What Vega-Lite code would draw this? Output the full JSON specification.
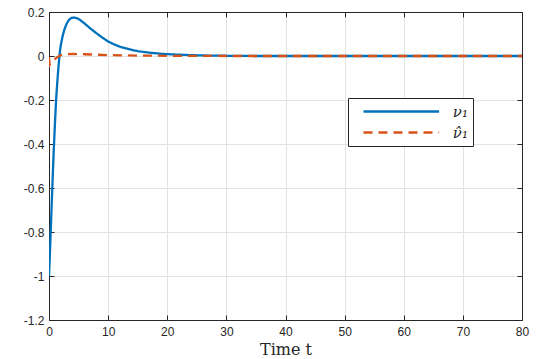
{
  "$schema": "https://vega.github.io/schema/vega-lite/v6.json",
  "width": 473,
  "height": 308,
  "autosize": "none",
  "padding": {"left": 49, "top": 12, "right": 18, "bottom": 39},
  "background": "white",
  "config": {
    "view": {"stroke": "#262626", "strokeWidth": 1},
    "axis": {"labelFont": "Liberation Sans", "labelFontSize": 12, "labelColor": "#262626", "domainColor": "#262626", "tickColor": "#262626", "gridColor": "#e3e3e3", "gridOpacity": 1, "titleFont": "DejaVu Serif", "titleFontWeight": "normal", "titleColor": "#262626", "labelFlush": false}
  },
  "datasets": {
    "curves": [
      {"t": 0, "v": -1, "s": "ν₁"},
      {"t": 0.15, "v": -0.9, "s": "ν₁"},
      {"t": 0.3, "v": -0.79, "s": "ν₁"},
      {"t": 0.45, "v": -0.68, "s": "ν₁"},
      {"t": 0.6, "v": -0.57, "s": "ν₁"},
      {"t": 0.8, "v": -0.43, "s": "ν₁"},
      {"t": 1.0, "v": -0.31, "s": "ν₁"},
      {"t": 1.2, "v": -0.2, "s": "ν₁"},
      {"t": 1.4, "v": -0.12, "s": "ν₁"},
      {"t": 1.6, "v": -0.05, "s": "ν₁"},
      {"t": 1.8, "v": 0.01, "s": "ν₁"},
      {"t": 2.0, "v": 0.05, "s": "ν₁"},
      {"t": 2.3, "v": 0.09, "s": "ν₁"},
      {"t": 2.6, "v": 0.12, "s": "ν₁"},
      {"t": 3.0, "v": 0.148, "s": "ν₁"},
      {"t": 3.4, "v": 0.165, "s": "ν₁"},
      {"t": 3.8, "v": 0.173, "s": "ν₁"},
      {"t": 4.2, "v": 0.175, "s": "ν₁"},
      {"t": 4.7, "v": 0.172, "s": "ν₁"},
      {"t": 5.2, "v": 0.165, "s": "ν₁"},
      {"t": 6, "v": 0.148, "s": "ν₁"},
      {"t": 7, "v": 0.125, "s": "ν₁"},
      {"t": 8, "v": 0.104, "s": "ν₁"},
      {"t": 9, "v": 0.084, "s": "ν₁"},
      {"t": 10, "v": 0.066, "s": "ν₁"},
      {"t": 11, "v": 0.053, "s": "ν₁"},
      {"t": 12, "v": 0.042, "s": "ν₁"},
      {"t": 13.5, "v": 0.031, "s": "ν₁"},
      {"t": 15, "v": 0.022, "s": "ν₁"},
      {"t": 17, "v": 0.015, "s": "ν₁"},
      {"t": 19, "v": 0.01, "s": "ν₁"},
      {"t": 21, "v": 0.007, "s": "ν₁"},
      {"t": 24, "v": 0.004, "s": "ν₁"},
      {"t": 27, "v": 0.002, "s": "ν₁"},
      {"t": 30, "v": 0.001, "s": "ν₁"},
      {"t": 35, "v": 0, "s": "ν₁"},
      {"t": 40, "v": 0, "s": "ν₁"},
      {"t": 50, "v": 0, "s": "ν₁"},
      {"t": 60, "v": 0, "s": "ν₁"},
      {"t": 70, "v": 0, "s": "ν₁"},
      {"t": 80, "v": 0, "s": "ν₁"},
      {"t": 0, "v": -0.005, "s": "ν̂₁"},
      {"t": 0.1, "v": -0.04, "s": "ν̂₁"},
      {"t": 0.3, "v": -0.03, "s": "ν̂₁"},
      {"t": 0.8, "v": -0.018, "s": "ν̂₁"},
      {"t": 1.4, "v": -0.005, "s": "ν̂₁"},
      {"t": 2, "v": 0.004, "s": "ν̂₁"},
      {"t": 3, "v": 0.008, "s": "ν̂₁"},
      {"t": 4, "v": 0.009, "s": "ν̂₁"},
      {"t": 6, "v": 0.008, "s": "ν̂₁"},
      {"t": 8, "v": 0.006, "s": "ν̂₁"},
      {"t": 10, "v": 0.004, "s": "ν̂₁"},
      {"t": 15, "v": 0.002, "s": "ν̂₁"},
      {"t": 20, "v": 0.001, "s": "ν̂₁"},
      {"t": 30, "v": 0, "s": "ν̂₁"},
      {"t": 40, "v": 0, "s": "ν̂₁"},
      {"t": 50, "v": 0, "s": "ν̂₁"},
      {"t": 60, "v": 0, "s": "ν̂₁"},
      {"t": 70, "v": 0, "s": "ν̂₁"},
      {"t": 80, "v": 0, "s": "ν̂₁"}
    ]
  },
  "data": {"name": "curves"},
  "layer": [
    {
      "mark": {"type": "line", "strokeWidth": 2.3, "clip": true},
      "encoding": {
        "x": {"field": "t", "type": "quantitative", "scale": {"domain": [0, 80], "nice": false, "zero": false},
          "axis": {"orient": "bottom", "values": [0,10,20,30,40,50,60,70,80], "tickSize": -5, "labelPadding": 11, "title": "Time t", "titleFontSize": 16, "titlePadding": 4, "domain": true}},
        "y": {"field": "v", "type": "quantitative", "scale": {"domain": [-1.2, 0.2], "nice": false, "zero": false},
          "axis": {"orient": "left", "values": [-1.2,-1,-0.8,-0.6,-0.4,-0.2,0,0.2], "labelExpr": "replace(format(datum.value, '.1~f'), '\u2212', '-')", "tickSize": -5, "labelPadding": 10, "title": null, "domain": true}},
        "color": {"field": "s", "type": "nominal", "scale": {"domain": ["ν₁", "ν̂₁"], "range": ["#0072BD", "#D95319"]},
          "legend": {"title": null, "orient": "none", "legendX": 299, "legendY": 86, "fillColor": "white", "strokeColor": "#262626", "padding": 5, "symbolType": "M-5.4,0H5.4", "symbolSize": 196, "symbolOffset": 39.8, "symbolStrokeWidth": 2.3, "labelFont": "DejaVu Serif", "labelFontStyle": "italic", "labelFontSize": 15, "labelColor": "#262626", "rowPadding": 4, "labelOffset": 43, "labelExpr": "datum.label + '\u2003'"}},
        "strokeDash": {"field": "s", "type": "nominal", "scale": {"domain": ["ν₁", "ν̂₁"], "range": [[1, 0], [9, 6]]}, "legend": null}
      }
    },
    {
      "mark": {"type": "line", "opacity": 0},
      "encoding": {
        "x": {"field": "t", "type": "quantitative", "axis": {"orient": "top", "values": [0,10,20,30,40,50,60,70,80], "tickSize": -5, "labels": false, "grid": false, "title": null}},
        "y": {"field": "v", "type": "quantitative", "axis": {"orient": "right", "values": [-1.2,-1,-0.8,-0.6,-0.4,-0.2,0,0.2], "tickSize": -5, "labels": false, "grid": false, "title": null}}
      }
    }
  ]
}
